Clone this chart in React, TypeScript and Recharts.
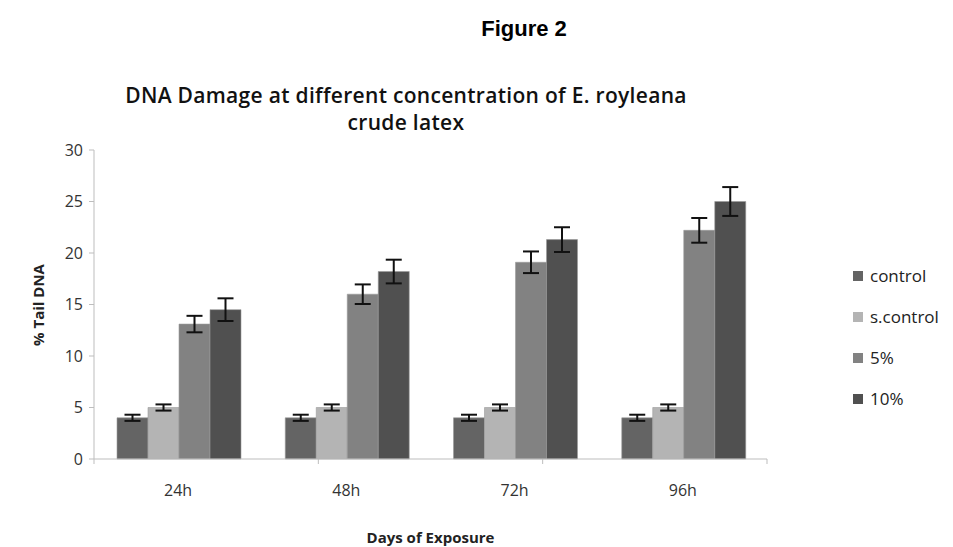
import React from "react";
import { BarChart, Bar, XAxis, YAxis, ErrorBar } from "recharts";

const days = ["24h", "48h", "72h", "96h"];
const controlValues = [4, 4, 4, 4];
const sControlValues = [5, 5, 5, 5];
const fivePctValues = [13.1, 16, 19.1, 22.2];
const tenPctValues = [14.5, 18.2, 21.3, 25];
const controlErr = [0.3, 0.3, 0.3, 0.3];
const sControlErr = [0.3, 0.3, 0.3, 0.3];
const fivePctErr = [0.8, 0.95, 1.05, 1.2];
const tenPctErr = [1.1, 1.15, 1.2, 1.4];
const yTicks = [0, 5, 10, 15, 20, 25, 30];
const boundaryTicks = [0, 1, 2, 3, 4];

const series = [
  { key: "control", name: "control", color: "#646464" },
  { key: "sControl", name: "s.control", color: "#b4b4b4" },
  { key: "five", name: "5%", color: "#828282" },
  { key: "ten", name: "10%", color: "#505050" },
];

const data = days.map((d, i) => ({
  day: d,
  control: controlValues[i],
  sControl: sControlValues[i],
  five: fivePctValues[i],
  ten: tenPctValues[i],
  controlErr: controlErr[i],
  sControlErr: sControlErr[i],
  fiveErr: fivePctErr[i],
  tenErr: tenPctErr[i],
}));

const font = "'Open Sans', sans-serif";

const App: React.FC = () => {
  return (
    <div style={{ position: "absolute", left: 0, top: 0, width: 953, height: 547, background: "#fff" }}>
      <div style={{ position: "absolute", left: 0, width: 1048, top: 16, textAlign: "center", fontFamily: "'Liberation Sans', Arial, sans-serif", fontWeight: "bold", fontSize: 22 }}>
        Figure 2
      </div>
      <div style={{ position: "absolute", left: 0, width: 812, top: 82, textAlign: "center", fontFamily: font, fontWeight: 600, fontSize: 21, letterSpacing: 0.3, lineHeight: "27px", color: "#111" }}>
        DNA Damage at different concentration of E. royleana
        <br />
        crude latex
      </div>
      <div style={{ position: "absolute", left: 38, top: 305, transform: "translate(-50%, -50%) rotate(-90deg)", whiteSpace: "nowrap", fontFamily: font, fontWeight: "bold", fontSize: 15, color: "#222" }}>
        % Tail DNA
      </div>
      <div style={{ position: "absolute", left: 0, width: 861, top: 529, height: 17, lineHeight: "17px", textAlign: "center", fontFamily: font, fontWeight: "bold", fontSize: 15, color: "#222" }}>
        Days of Exposure
      </div>
      <div style={{ position: "absolute", left: 853, top: 255, fontFamily: font, fontSize: 17, color: "#222" }}>
        {series.map((s) => (
          <div key={s.key} style={{ display: "flex", alignItems: "center", height: 41 }}>
            <span style={{ width: 10, height: 10, background: s.color, marginRight: 7 }} />
            {s.name}
          </div>
        ))}
      </div>
      <BarChart
        width={953}
        height={547}
        data={data}
        margin={{ top: 150, right: 186, left: 34, bottom: 52 }}
        barCategoryGap={23}
        barGap={0}
      >
        <XAxis
          xAxisId="a"
          type="number"
          domain={[0, 4]}
          ticks={boundaryTicks}
          tickFormatter={() => ""}
          height={6}
          tickSize={5}
          stroke="#bdbdbd"
          axisLine={{ stroke: "#bdbdbd" }}
          tickLine={{ stroke: "#bdbdbd" }}
        />
        <XAxis
          xAxisId="b"
          dataKey="day"
          height={30}
          axisLine={false}
          tickLine={false}
          tickMargin={14}
          tick={{ fill: "#333", fontSize: 16, fontFamily: font }}
        />
        <YAxis
          width={60}
          domain={[0, 30]}
          ticks={yTicks}
          tickSize={5}
          tickMargin={6}
          axisLine={{ stroke: "#bdbdbd" }}
          tickLine={{ stroke: "#bdbdbd" }}
          tick={{ fill: "#333", fontSize: 16, fontFamily: font }}
        />
        {series.map((s) => (
          <Bar
            key={s.key}
            xAxisId="b"
            dataKey={s.key}
            name={s.name}
            fill={s.color}
            stroke="#9a9a9a"
            strokeWidth={0.6}
            isAnimationActive={false}
          >
            <ErrorBar dataKey={`${s.key}Err`} width={8} stroke="#111" strokeWidth={2} />
          </Bar>
        ))}
      </BarChart>
    </div>
  );
};

export default App;
